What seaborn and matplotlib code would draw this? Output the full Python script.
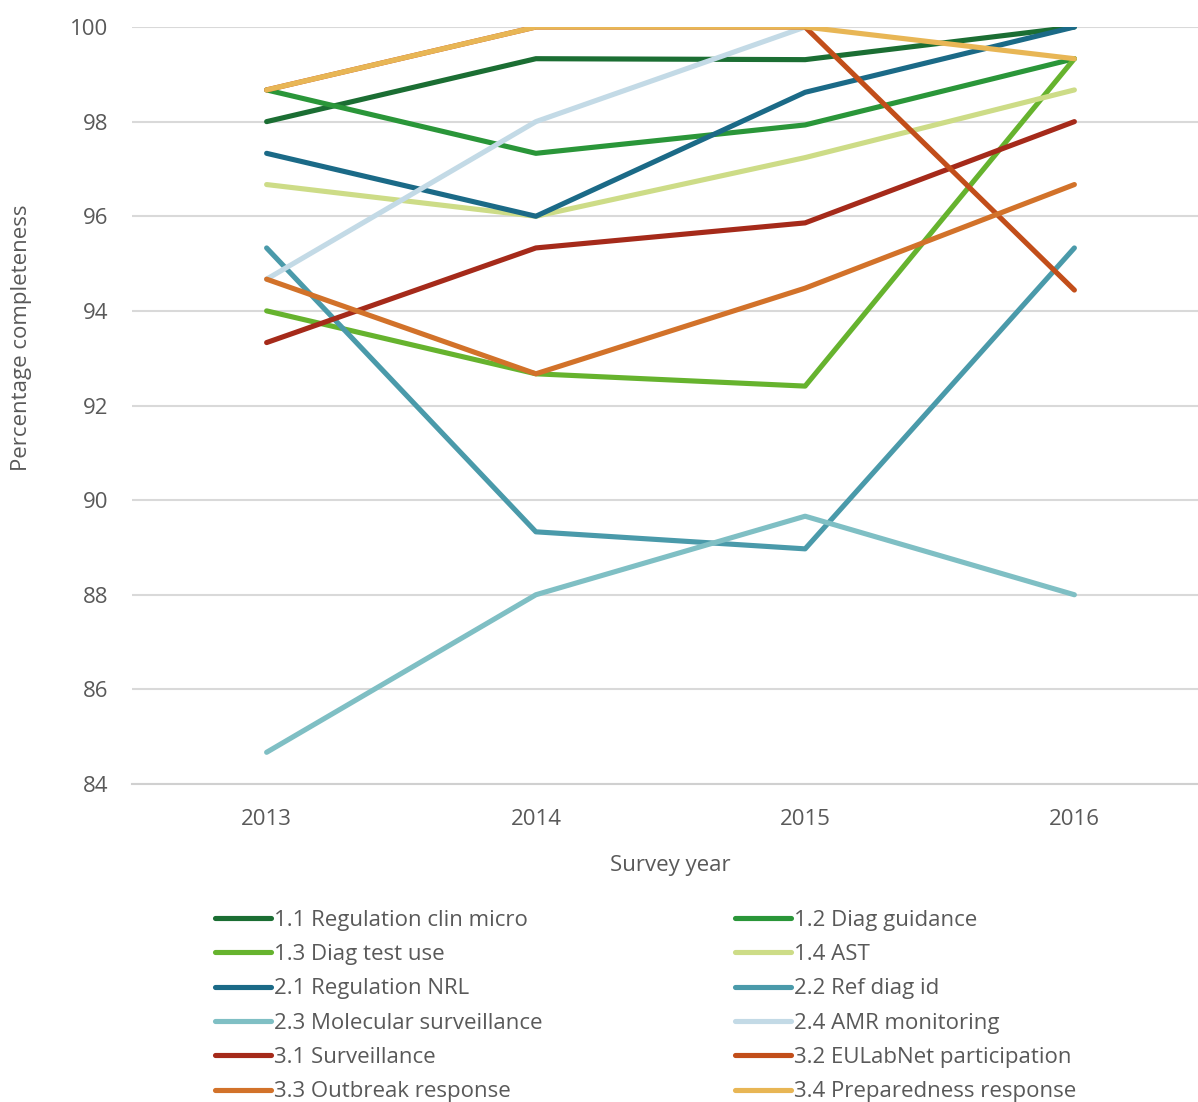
import numpy as np
import pandas as pd
import matplotlib
matplotlib.use("Agg")
import matplotlib.pyplot as plt
import seaborn as sns

years = [2013, 2014, 2015, 2016]
series_names = [
    "1.1 Regulation clin micro", "1.2 Diag guidance", "1.3 Diag test use", "1.4 AST",
    "2.1 Regulation NRL", "2.2 Ref diag id", "2.3 Molecular surveillance", "2.4 AMR monitoring",
    "3.1 Surveillance", "3.2 EULabNet participation", "3.3 Outbreak response", "3.4 Preparedness response",
]
reg_clin_micro = [98.0, 99.33, 99.31, 100.0]
diag_guidance = [98.67, 97.33, 97.93, 99.33]
diag_test_use = [94.0, 92.67, 92.41, 99.33]
ast = [96.67, 96.0, 97.24, 98.67]
reg_nrl = [97.33, 96.0, 98.62, 100.0]
ref_diag_id = [95.33, 89.33, 88.97, 95.33]
molecular_surv = [84.67, 88.0, 89.66, 88.0]
amr_monitoring = [94.67, 98.0, 100.0, np.nan]
surveillance = [93.33, 95.33, 95.86, 98.0]
eulabnet = [98.67, 100.0, 100.0, 94.44]
outbreak = [94.67, 92.67, 94.48, 96.67]
preparedness = [98.67, 100.0, 100.0, 99.33]

values = [reg_clin_micro, diag_guidance, diag_test_use, ast, reg_nrl, ref_diag_id,
          molecular_surv, amr_monitoring, surveillance, eulabnet, outbreak, preparedness]
colors = ["#1b6e33", "#2a9639", "#66b32e", "#cddc87", "#1b6a87", "#4a9aaa",
          "#7fbfc4", "#c3dae6", "#a52a1a", "#c24e1a", "#d2722a", "#e8b655"]

rows = []
for name, vals in zip(series_names, values):
    for y, v in zip(years, vals):
        rows.append({"year": y, "value": v, "series": name})
df = pd.DataFrame(rows)

sns.set_theme(style="white")
plt.rcParams["font.family"] = ["Open Sans", "DejaVu Sans"]
txt = "#595959"
fs = 16

fig = plt.figure(figsize=(11.98, 11.02), dpi=100)
ax = fig.add_axes([132 / 1198, 318 / 1102, 1077 / 1198, 757 / 1102])

sns.lineplot(data=df, x="year", y="value", hue="series", hue_order=series_names,
             palette=colors, linewidth=3.7, ax=ax, sort=False, legend=True,
             solid_capstyle="round", solid_joinstyle="round")

ax.set_xlim(2012.5, 2016.5)
ax.set_ylim(84, 100)
ax.set_yticks(np.arange(84, 101, 2))
ax.set_xticks(years)
ax.set_xticklabels([str(y) for y in years])
ax.set_xticks([2012.5, 2013.5, 2014.5, 2015.5, 2016.5], minor=True)
ax.tick_params(axis="x", which="major", length=0, pad=18, labelsize=fs, labelcolor=txt)
ax.tick_params(axis="x", which="minor", length=6, width=1.2, color="#d0d0d0", direction="out")
ax.tick_params(axis="y", length=0, pad=17, labelsize=fs, labelcolor=txt)
ax.grid(axis="y", color="#d9d9d9", linewidth=1.5)
ax.set_axisbelow(True)
for s in ["top", "right", "left"]:
    ax.spines[s].set_visible(False)
ax.spines["bottom"].set_color("#d0d0d0")
ax.spines["bottom"].set_linewidth(1.5)

ax.set_xlabel("Survey year", fontsize=fs, color=txt, labelpad=18)
ax.set_ylabel("Percentage completeness", fontsize=fs, color=txt)
ax.yaxis.set_label_coords(-0.093, 0.59)

handles, labels = ax.get_legend_handles_labels()
ax.get_legend().remove()
col1 = [0, 2, 4, 6, 8, 10]
col2 = [1, 3, 5, 7, 9, 11]
for idx, xpos in [(col1, 215 / 1198), (col2, 735 / 1198)]:
    leg = fig.legend([handles[i] for i in idx], [labels[i] for i in idx],
                     loc="upper left", bbox_to_anchor=(xpos, 0.1745), ncol=1,
                     frameon=False, fontsize=fs, handlelength=2.5,
                     handletextpad=0.15, labelspacing=0.6, borderpad=0,
                     borderaxespad=0)
    for t in leg.get_texts():
        t.set_color(txt)
    for h in leg.get_lines():
        h.set_linewidth(3.7)

fig.savefig("out.png", dpi=100)
